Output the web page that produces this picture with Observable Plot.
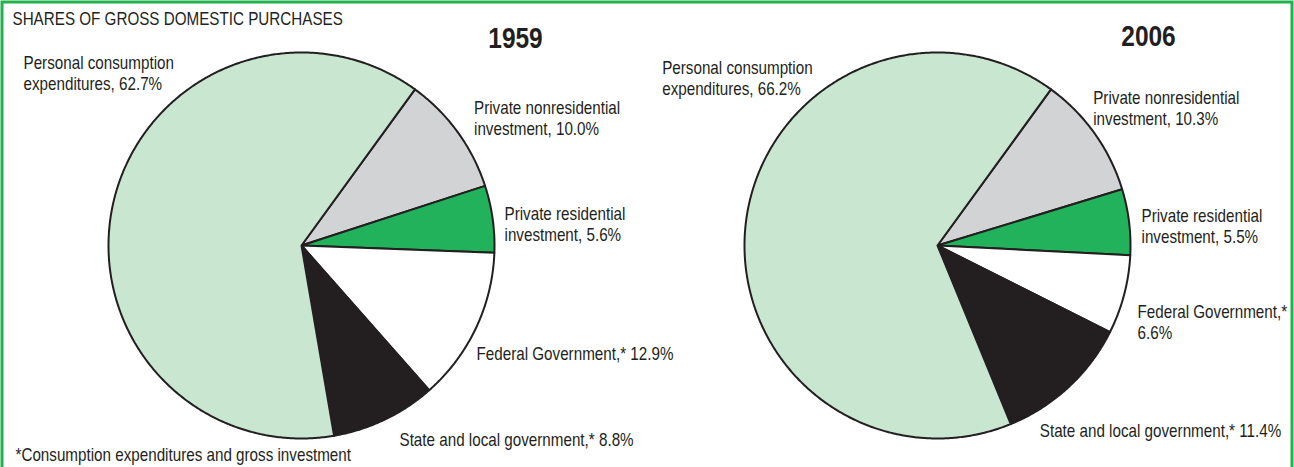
<!DOCTYPE html>
<html><head><meta charset="utf-8">
<script src="https://cdn.jsdelivr.net/npm/d3@7"></script>
<script src="https://cdn.jsdelivr.net/npm/@observablehq/plot@0.6"></script>
<style>body{margin:0;background:#fff}</style>
</head><body><div id="chart"></div>
<script>
// ---- data ----
const years = ["1959", "2006"];
const categories = [
  "Private nonresidential investment",
  "Private residential investment",
  "Federal Government",
  "State and local government",
  "Personal consumption expenditures"
];
const shares1959 = [10.0, 5.6, 12.9, 8.8, 62.7];
const shares2006 = [10.3, 5.5, 6.6, 11.4, 66.2];
const labels1959 = [
  "Private nonresidential\ninvestment, 10.0%",
  "Private residential\ninvestment, 5.6%",
  "Federal Government,* 12.9%",
  "State and local government,* 8.8%",
  "Personal consumption\nexpenditures, 62.7%"
];
const labels2006 = [
  "Private nonresidential\ninvestment, 10.3%",
  "Private residential\ninvestment, 5.5%",
  "Federal Government,*\n6.6%",
  "State and local government,* 11.4%",
  "Personal consumption\nexpenditures, 66.2%"
];
const sliceColors = ["#d1d3d4", "#22b25b", "#ffffff", "#231f20", "#c9e6d1"];
const title = "SHARES OF GROSS DOMESTIC PURCHASES";
const footnote = "*Consumption expenditures and gross investment";

// ---- layout (pixels) ----
const W = 1294, H = 467, R = 193;
const CX = {"1959": 301, "2006": 937}, CY = 245;
const startDeg = 36;
const LIFT = 2.4; // compensate first-line offset of lineAnchor "top"
// label cap-top-left offsets from pie centre, px
const labelOffsets = {
  "1959": [[172.5, -144.5], [203, -38], [175, 102], [98, 188], [-278, -189.5]],
  "2006": [[155.7, -154.5], [204, -36], [200, 59.5], [102.3, 179], [-275.3, -184.5]]
};
const yearTitlePos = {"1959": [515, 47.5], "2006": [1148, 45.5]};
const ink = "#231f20";
const FONT = "'Liberation Sans Narrow', 'Arial Narrow', 'Liberation Sans', Arial, sans-serif";
const CONDENSE = 0.845; // emulate a condensed Helvetica

const sharesByYear = {"1959": shares1959, "2006": shares2006};
const labelsByYear = {"1959": labels1959, "2006": labels2006};

const pie = d3.pie().sort(null).value(d => d.value)
  .startAngle(startDeg * Math.PI / 180)
  .endAngle(startDeg * Math.PI / 180 + 2 * Math.PI);

const cxData = y => CX[y] / R;
const cyData = (H - CY) / R;

const polys = [];
const labelRows = [];
for (const year of years) {
  const rows = categories.map((c, i) => ({year, cat: c, value: sharesByYear[year][i], color: sliceColors[i], label: labelsByYear[year][i], i}));
  const arcs = pie(rows);
  for (const a of arcs) {
    const key = year + "|" + a.data.cat;
    const cx = cxData(year);
    polys.push({key, color: a.data.color, x: cx, y: cyData});
    const n = Math.max(2, Math.ceil((a.endAngle - a.startAngle) / (Math.PI / 360)));
    for (let k = 0; k <= n; k++) {
      const t = a.startAngle + (a.endAngle - a.startAngle) * k / n;
      polys.push({key, color: a.data.color, x: cx + Math.sin(t), y: cyData + Math.cos(t)});
    }
    polys.push({key, color: a.data.color, x: cx, y: cyData});
    const off = labelOffsets[year][a.data.i];
    labelRows.push({label: a.data.label, x: cx + off[0] / R, y: cyData - (off[1] - LIFT) / R});
  }
}

const chart = Plot.plot({
  width: W, height: H,
  margin: 0,
  x: {domain: [0, W / R], axis: null},
  y: {domain: [0, H / R], axis: null},
  color: {type: "identity"},
  style: {fontFamily: FONT, fontSize: "18px", color: ink, background: "#fff"},
  marks: [
    Plot.frame({stroke: "#22b14c", strokeWidth: 3, insetTop: 1.5, insetLeft: 1.5, insetRight: 2.5, insetBottom: -6}),
    Plot.line(polys, {x: "x", y: "y", z: "key", fill: "color", stroke: ink, strokeWidth: 2, strokeLinejoin: "round"}),
    Plot.text(labelRows, {x: "x", y: "y", text: "label", textAnchor: "start", lineAnchor: "top", lineHeight: 1.18, fill: ink, fontSize: 18}),
    Plot.text(years, {x: y => yearTitlePos[y][0] / R, y: y => (H - yearTitlePos[y][1]) / R, text: d => d, textAnchor: "middle", lineAnchor: "bottom", fontWeight: "bold", fontSize: 29, fill: ink}),
    Plot.text([title], {frameAnchor: "top-left", dx: 12, dy: 11.5, lineAnchor: "top", fill: ink, fontSize: 18}),
    Plot.text([footnote], {frameAnchor: "top-left", dx: 15, dy: 447.5, lineAnchor: "top", fill: ink, fontSize: 18})
  ]
});
// condense all text horizontally about its anchor (vertical layout untouched)
chart.querySelectorAll("text").forEach(t => {
  const tr = t.getAttribute("transform") || "";
  const xa = t.getAttribute("x");
  let pre = "";
  if (xa !== null && !isNaN(+xa)) { t.removeAttribute("x"); pre = ` translate(${+xa},0)`; }
  t.setAttribute("transform", `${tr}${pre} scale(${CONDENSE},1)`);
});
document.getElementById("chart").appendChild(chart);
</script>
</body></html>
